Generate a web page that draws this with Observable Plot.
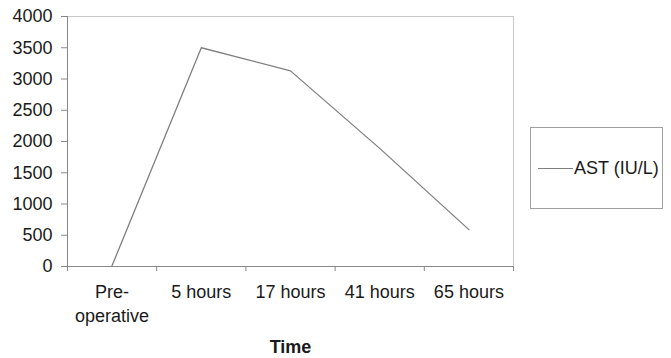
<!DOCTYPE html>
<html><head><meta charset="utf-8">
<script src="https://cdn.jsdelivr.net/npm/d3@7"></script>
<script src="https://cdn.jsdelivr.net/npm/@observablehq/plot@0.6"></script>
<style>
body{margin:0;background:#fff;}
#wrap{position:relative;width:671px;height:358px;font-family:"Liberation Sans",Arial,sans-serif;}
#legend{position:absolute;left:530px;top:127px;width:133px;height:82px;border:1px solid #a0a0a0;box-sizing:border-box;display:flex;align-items:center;background:#fff;}
#legend .sw{width:35px;height:0;border-top:1.3px solid #7f7f7f;margin-left:7px;margin-right:1px;}
#legend .lb{font-size:18px;color:#1a1a1a;white-space:nowrap;}
#wrap svg [aria-label="x-axis label"] text, #wrap svg g[aria-label="x-axis label"]{font-weight:bold;}
</style></head>
<body><div id="wrap"></div>
<script>
const categories = ["Pre-\noperative", "5 hours", "17 hours", "41 hours", "65 hours"];
const astValues = [15, 3500, 3130, 1890, 590];
const yTicks = [0, 500, 1000, 1500, 2000, 2500, 3000, 3500, 4000];
const seriesName = "AST (IU/L)";
const xTitle = "Time";

const data = categories.map((c, i) => ({idx: i + 0.5, cat: c, value: astValues[i]}));
const boundaries = d3.range(categories.length + 1);
const centers = categories.map((c, i) => i + 0.5);

const chart = Plot.plot({
  width: 671, height: 358,
  marginLeft: 67, marginRight: 158, marginTop: 16, marginBottom: 92,
  style: {fontFamily: '"Liberation Sans", Arial, sans-serif', fontSize: "18px", color: "#1a1a1a", background: "white"},
  x: {domain: [0, categories.length]},
  y: {domain: [0, 4000]},
  marks: [
    Plot.frame({stroke: "#c8c8c8"}),
    Plot.axisY({ticks: yTicks, tickSize: 6, tickPadding: 9, label: null, stroke: "#888", tickFormat: d => String(d)}),
    Plot.axisX({ticks: boundaries, tickSize: 5, tickFormat: () => "", label: null, stroke: "#888"}),
    Plot.axisX({ticks: centers, tickSize: 0, tickPadding: 15, lineHeight: 1.33,
      tickFormat: d => categories[Math.round(d - 0.5)],
      label: xTitle, labelAnchor: "center", labelArrow: "none", labelOffset: 86}),
    Plot.ruleX([0], {stroke: "#888"}),
    Plot.ruleY([0], {stroke: "#888"}),
    Plot.line(data, {x: "idx", y: "value", stroke: "#7f7f7f", strokeWidth: 1.3})
  ]
});
const wrap = document.getElementById("wrap");
wrap.appendChild(chart);
const lg = document.createElement("div");
lg.id = "legend";
lg.innerHTML = '<div class="sw"></div><div class="lb"></div>';
lg.querySelector(".lb").textContent = seriesName;
wrap.appendChild(lg);
</script>
</body></html>
